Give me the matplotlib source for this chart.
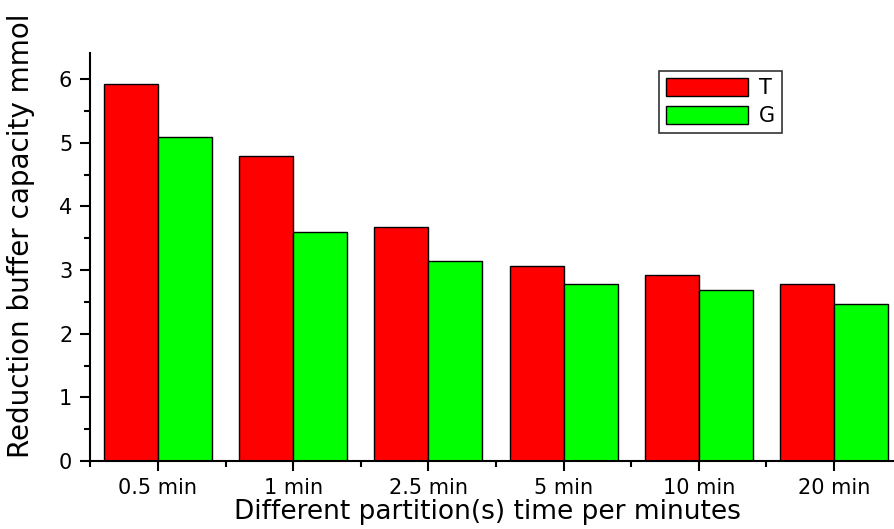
import numpy as np
import matplotlib
matplotlib.use('Agg')
import matplotlib.pyplot as plt
from matplotlib.ticker import MultipleLocator

plt.rcParams['font.family'] = ['DejaVu Sans']

# Data
categories = ['0.5 min', '1 min', '2.5 min', '5 min', '10 min', '20 min']
t_values = [5.92, 4.79, 3.68, 3.07, 2.92, 2.78]
g_values = [5.09, 3.60, 3.14, 2.78, 2.69, 2.47]

x = np.arange(len(categories))
width = 0.4

fig = plt.figure(figsize=(8.95, 5.29), dpi=100)
ax = fig.add_axes([0.101, 0.1285, 0.9064, 0.7713])

ax.bar(x - width / 2, t_values, width, color='#ff0000', edgecolor='black', linewidth=1, label='T')
ax.bar(x + width / 2, g_values, width, color='#00ff00', edgecolor='black', linewidth=1, label='G')

ax.set_xlim(-0.5, 5.5)
ax.set_ylim(0, 6.41)
ax.set_xticks(x)
ax.set_xticklabels(categories)
ax.xaxis.set_minor_locator(MultipleLocator(1, offset=0.5))
ax.yaxis.set_major_locator(MultipleLocator(1))
ax.yaxis.set_minor_locator(MultipleLocator(0.5))

for side in ['top', 'right']:
    ax.spines[side].set_visible(False)
for side in ['left', 'bottom']:
    ax.spines[side].set_linewidth(1.5)

ax.tick_params(axis='both', which='major', direction='out', length=7, width=1.5, labelsize=15)
ax.tick_params(axis='both', which='minor', direction='out', length=4, width=1.5)
ax.tick_params(axis='x', pad=5)
ax.tick_params(axis='y', pad=6)

ax.set_xlabel('Different partition(s) time per minutes', fontsize=19)
ax.set_ylabel('Reduction buffer capacity mmol', fontsize=20)
ax.yaxis.set_label_coords(-0.068, 0.551)
ax.xaxis.set_label_coords(0.49, -0.094)

leg = ax.legend(loc='upper left', bbox_to_anchor=(0.701, 0.956), fontsize=15, frameon=True,
                fancybox=False, edgecolor='black', handlelength=3.9, handleheight=0.95,
                borderpad=0.35, labelspacing=0.36, handletextpad=0.53, borderaxespad=0)
leg.get_frame().set_linewidth(1.2)

plt.savefig('out.png', dpi=100)
